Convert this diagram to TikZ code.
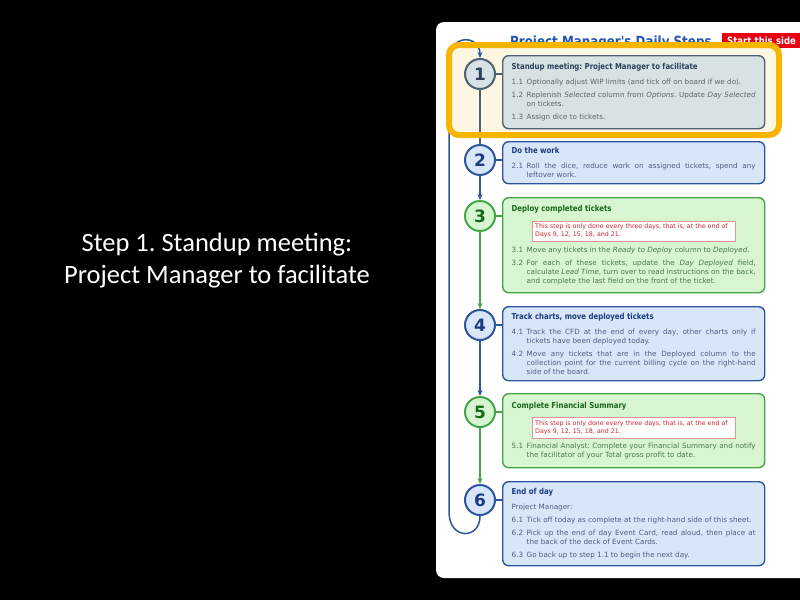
\documentclass[tikz,border=0pt]{standalone}
\usepackage{fontspec}
\setmainfont{DejaVu Sans}
\newfontfamily\ttlfont[FakeStretch=0.85]{DejaVu Sans}
\newfontfamily\capfont{Carlito}
\usetikzlibrary{arrows.meta,calc}
\definecolor{pblue}{RGB}{46,86,158}
\definecolor{pbluefill}{RGB}{216,230,250}
\definecolor{pbluetext}{RGB}{80,92,130}
\definecolor{pbluettl}{RGB}{28,60,130}
\definecolor{pgreen}{RGB}{70,165,70}
\definecolor{pgreenfill}{RGB}{216,245,210}
\definecolor{pgreentext}{RGB}{75,120,75}
\definecolor{pgreenttl}{RGB}{25,105,25}
\definecolor{pslate}{RGB}{78,98,114}
\definecolor{pslatefill}{RGB}{216,226,228}
\definecolor{pslatetext}{RGB}{90,100,110}
\definecolor{pslatettl}{RGB}{45,65,90}
\definecolor{hlorange}{RGB}{247,181,0}
\definecolor{hlcream}{RGB}{252,246,226}
\definecolor{notered}{RGB}{225,150,150}
\definecolor{notetext}{RGB}{200,40,45}
\definecolor{startred}{RGB}{230,0,18}
\definecolor{headblue}{RGB}{36,86,184}
\frenchspacing
\newcommand{\steptitle}[2]{{\ttlfont\bfseries\fontsize{8.2}{9}\selectfont\color{#1}#2\par}\vspace{2pt}}
\newcommand{\stepitem}[2]{\hangindent=15pt\hangafter=1\noindent\makebox[15pt][l]{#1}#2\par}
\newcommand{\stepnote}[1]{{\centering\setlength{\fboxsep}{3pt}\setlength{\fboxrule}{0.6pt}%
  \fcolorbox{notered}{white}{\parbox{197pt}{\raggedright\fontsize{6.3}{8}\selectfont\color{notetext}#1}}\par}}

\begin{document}
\begin{tikzpicture}[x=1pt,y=-1pt,>={Stealth[length=6pt,width=5pt]},
    stepbox/.style={draw,rounded corners=6pt,line width=1.4pt,anchor=north west,
      text width=244pt,inner xsep=9pt,inner ysep=4pt,align=justify,
      font=\fontsize{7.2}{9}\selectfont,
      execute at begin node={\setlength{\parskip}{4pt}\hyphenpenalty=10000\emergencystretch=10pt}},
    slatebox/.style={stepbox,draw=pslate,fill=pslatefill,text=pslatetext},
    bluebox/.style={stepbox,draw=pblue,fill=pbluefill,text=pbluetext},
    greenbox/.style={stepbox,draw=pgreen,fill=pgreenfill,text=pgreentext},
    stepnum/.style={circle,line width=2pt,minimum size=30pt,inner sep=0pt,
      font=\bfseries\fontsize{17}{17}\selectfont},
    slatenum/.style={stepnum,draw=pslate,fill=pslatefill,text=pslatettl},
    bluenum/.style={stepnum,draw=pblue,fill=pbluefill,text=pbluettl},
    greennum/.style={stepnum,draw=pgreen,fill=pgreenfill,text=pgreenttl},
    slatelink/.style={draw=pslate,line width=1.5pt},
    bluelink/.style={draw=pblue,line width=1.5pt},
    greenlink/.style={draw=pgreen,line width=1.5pt}]
  \fill[black] (0,0) rectangle (800,600);
  \useasboundingbox (0,0) rectangle (800,600);
  % the sheet
  \fill[white,rounded corners=8pt] (436,22) rectangle (815,578);
  \node[anchor=base west,inner sep=0pt,text=headblue,
        font=\ttlfont\bfseries\fontsize{14}{14}\selectfont] (head) at (510,46) {Project Manager's Daily Steps};
  \node[anchor=north west,fill=startred,text=white,text width=80pt,align=left,
        minimum height=15pt,inner xsep=5pt,inner ysep=0pt,
        font=\ttlfont\bfseries\fontsize{10}{10}\selectfont] (start) at (722,33) {Start this side};
  \fill[hlcream,rounded corners=10pt] (449,45) rectangle (779,135);
  % steps
  \node[slatebox,minimum height=73pt] (b1) at (502,55) {%
    \steptitle{pslatettl}{Standup meeting: Project Manager to facilitate}
    \stepitem{1.1}{Optionally adjust WIP limits (and tick off on board if we do).}
    \stepitem{1.2}{Replenish \textit{Selected} column from \textit{Options}. Update \textit{Day Selected} on tickets.}
    \stepitem{1.3}{Assign dice to tickets.}};
  \node[bluebox,minimum height=42pt] (b2) at (502,141) {%
    \steptitle{pbluettl}{Do the work}
    \stepitem{2.1}{Roll the dice, reduce work on assigned tickets, spend any leftover work.}};
  \node[greenbox,minimum height=95pt] (b3) at (502,197) {%
    \steptitle{pgreenttl}{Deploy completed tickets}
    \stepnote{This step is only done every three days, that is, at the end of\\Days 9, 12, 15, 18, and 21.}
    \stepitem{3.1}{Move any tickets in the \textit{Ready to Deploy} column to \textit{Deployed}.}
    \stepitem{3.2}{For each of these tickets, update the \textit{Day Deployed} field, calculate \textit{Lead Time}, turn over to read instructions on the back, and complete the last field on the front of the ticket.}};
  \node[bluebox,minimum height=74pt] (b4) at (502,306) {%
    \steptitle{pbluettl}{Track charts, move deployed tickets}
    \stepitem{4.1}{Track the CFD at the end of every day, other charts only if\linebreak tickets have been deployed today.}
    \stepitem{4.2}{Move any tickets that are in the Deployed column to the collection point for the current billing cycle on the right-hand side of the board.}};
  \node[greenbox,minimum height=74pt] (b5) at (502,393) {%
    \steptitle{pgreenttl}{Complete Financial Summary}
    \stepnote{This step is only done every three days, that is, at the end of\\Days 9, 12, 15, 18, and 21.}
    \stepitem{5.1}{Financial Analyst: Complete your Financial Summary and notify the facilitator of your Total gross profit to date.}};
  \node[bluebox,minimum height=84pt] (b6) at (502,481) {%
    \steptitle{pbluettl}{End of day}
    \noindent Project Manager:\par
    \stepitem{6.1}{Tick off today as complete at the right-hand side of this sheet.}
    \stepitem{6.2}{Pick up the end of day Event Card, read aloud, then place at\linebreak the back of the deck of Event Cards.}
    \stepitem{6.3}{Go back up to step 1.1 to begin the next day.}};
  \node[slatenum] (c1) at ($(b1.north west)+(-22,19)$) {1};
  \node[bluenum] (c2) at ($(b2.north west)+(-22,19)$) {2};
  \node[greennum] (c3) at ($(b3.north west)+(-22,19)$) {3};
  \node[bluenum] (c4) at ($(b4.north west)+(-22,19)$) {4};
  \node[greennum] (c5) at ($(b5.north west)+(-22,19)$) {5};
  \node[bluenum] (c6) at ($(b6.north west)+(-22,19)$) {6};
  \draw[slatelink] (c1.east) -- (c1.east -| b1.west);
  \draw[bluelink] (c2.east) -- (c2.east -| b2.west);
  \draw[greenlink] (c3.east) -- (c3.east -| b3.west);
  \draw[bluelink] (c4.east) -- (c4.east -| b4.west);
  \draw[greenlink] (c5.east) -- (c5.east -| b5.west);
  \draw[bluelink] (c6.east) -- (c6.east -| b6.west);
  \draw[slatelink] (c1) -- (c2);
  \draw[bluelink,->] (c2) -- (c3);
  \draw[greenlink,->] (c3) -- (c4);
  \draw[bluelink,->] (c4) -- (c5);
  \draw[greenlink,->] (c5) -- (c6);
  % back to the start
  \draw[bluelink,->] (c6.south) .. controls (480,540) and (449,540) .. (449,512)
    -- (449,60) .. controls (449,34) and (480,34) .. (c1.north);
  \draw[hlorange,line width=6pt,rounded corners=10pt] (449,45) rectangle (779,135);
  % slide caption
  \node[text=white,align=center,font=\capfont\fontsize{26.5}{32}\selectfont] (cap) at (217,261)
    {Step 1. Standup meeting:\\Project Manager to facilitate};
\end{tikzpicture}
\end{document}
